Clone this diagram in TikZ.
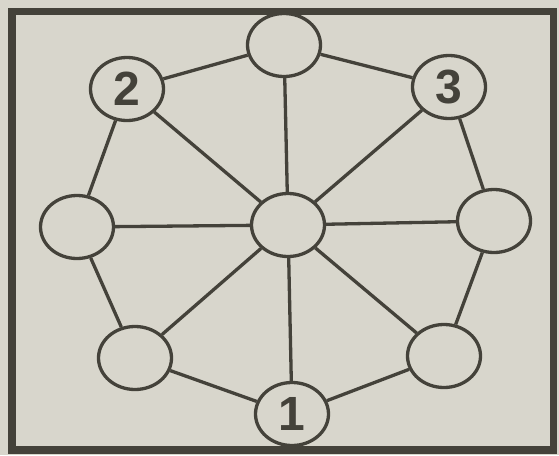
\documentclass[tikz,border=0pt]{standalone}
\usepackage{fontspec}
\setmainfont{Liberation Sans}
\usetikzlibrary{shapes.geometric}
\definecolor{paper}{RGB}{216,214,204}
\definecolor{ink}{RGB}{68,66,58}
\begin{document}
\begin{tikzpicture}[x=1pt,y=-1pt,
  ring/.style={ellipse,draw=ink,line width=3.3pt,fill=paper,minimum width=73pt,minimum height=63pt,inner sep=0pt,
    font=\fontsize{48}{48}\selectfont\bfseries,text=ink},
  link/.style={draw=ink,line width=3.3pt}]
\fill[paper] (0,0) rectangle (559,455);
\useasboundingbox (0,0) rectangle (559,455);
\draw[ink,line width=7.5pt] (12,11.5) rectangle (553.5,450);
\node[ring] (t) at (284,45) {};
\node[ring] (n2) at (127,89) {2};
\node[ring] (n3) at (449,87) {3};
\node[ring] (l) at (77,227) {};
\node[ring] (c) at (288,225) {};
\node[ring] (r) at (494,221) {};
\node[ring] (bl) at (135,358) {};
\node[ring] (br) at (444,356) {};
\node[ring] (n1) at (292,414) {1};
\foreach \a/\b in {t/n3,n3/r,r/br,br/n1,n1/bl,bl/l,l/n2,n2/t,c/t,c/n2,c/n3,c/l,c/r,c/bl,c/br,c/n1}
  \draw[link] (\a) -- (\b);
\end{tikzpicture}
\end{document}
